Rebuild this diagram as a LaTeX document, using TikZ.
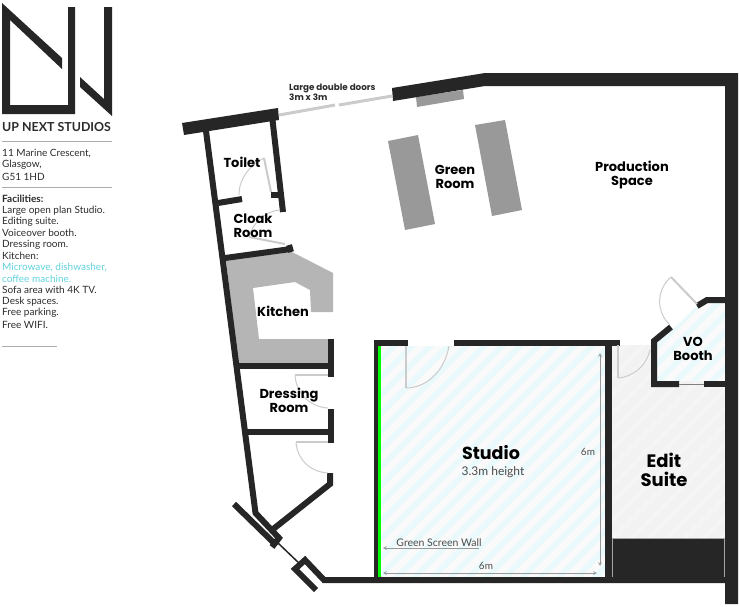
\documentclass[tikz,border=0pt]{standalone}
\usepackage{fontspec}
\setmainfont{Lato}
\newfontfamily\labelfont{Poppins}
\usepackage{tikz}
\definecolor{wallc}{HTML}{262626}
\definecolor{doorc}{HTML}{CBCBCB}
\definecolor{kitchenc}{HTML}{B5B5B5}
\definecolor{tablec}{HTML}{999999}
\definecolor{hatchc}{HTML}{EAF9FB}
\definecolor{hatchbg}{HTML}{FAFAFA}
\definecolor{editc}{HTML}{F2F2F2}
\definecolor{editstripe}{HTML}{F5F5F5}
\definecolor{textc}{HTML}{2B2B2B}
\definecolor{cyantext}{HTML}{62D2DE}
\tikzstyle{wall} = [wallc, line width=6pt]
\tikzstyle{swing} = [doorc, line width=1pt]
\tikzstyle{leaf} = [doorc, line width=2pt]
\tikzstyle{rule} = [doorc!85!black, line width=1pt]
\tikzstyle{room} = [inner sep=0pt, align=center, text=black, font=\labelfont\fontsize{13}{14}\selectfont\bfseries]
\tikzstyle{side} = [inner sep=0pt, anchor=west, text=textc, font=\fontsize{10}{11}\selectfont]
\tikzstyle{dim} = [inner sep=0pt, text=textc!85, font=\fontsize{10}{10}\selectfont]
\tikzstyle{dimline} = [gray!80, line width=0.7pt, ->, >=stealth]
\begin{document}
\begin{tikzpicture}[x=1pt,y=-1pt]
\useasboundingbox (0,0) rectangle (739,606);
% rooms
\begin{scope}
\clip (381,346) rectangle (605,577);
\fill [hatchbg] (381,346) rectangle (605,577);
\foreach \i in {0,18,...,486}
  \fill [hatchc] (381+\i-240,577) -- (381+\i-240+8,577) -- (381+\i+8,337) -- (381+\i,337) -- cycle;
\end{scope}
\begin{scope}
\clip (612,345) rectangle (725,538);
\fill [editc] (612,345) rectangle (725,538);
\foreach \i in {0,18,...,320}
  \fill [editstripe] (612+\i-200,538) -- (612+\i-200+6,538) -- (612+\i+6,338) -- (612+\i,338) -- cycle;
\end{scope}
\begin{scope}
\clip (657,343) -- (672,330) -- (697,306) -- (708,302) -- (725,302) -- (725,381) -- (657,381) -- cycle;
\fill [hatchbg] (650,295) rectangle (725,381);
\foreach \i in {0,18,...,180}
  \fill [hatchc] (650+\i-90,385) -- (650+\i-90+8,385) -- (650+\i+8,295) -- (650+\i,295) -- cycle;
\end{scope}
\fill [wallc, draw=gray!70, line width=0.5pt] (612,538) rectangle (724.5,577);
% furniture
\fill [kitchenc] (226,260) -- (292,252) -- (333,273) -- (333,312) -- (311,312) -- (310,290) -- (295,282) -- (253,288) -- (259,339) -- (328,339) -- (328,363) -- (238,363) -- cycle;
\fill [tablec] (388,141) -- (418,135) -- (435,224) -- (405,230) -- cycle;
\fill [tablec] (475,125) -- (505,120) -- (522,210) -- (492,216) -- cycle;
\fill [tablec] (416,97) -- (463,90) -- (464,99) -- (417,107) -- cycle;
% outer walls
\fill [wallc] (182,123) -- (278,108) -- (279,120) -- (184,135) -- cycle;
\fill [wallc] (392,88) -- (485,73) -- (738,73) -- (738,604) -- (725,604) -- (725,86) -- (485,86) -- (393,101) -- cycle;
\draw [wall] (206,131) -- (255.5,513) -- (279,538) -- (272,547);
\draw [wall] (330,473) -- (330,484) -- (272,530);
\draw [wallc, line width=6pt] (234,504) -- (274,543);
\draw [wallc, line width=1.5pt] (278,543) -- (301,565);
\draw [wall] (316,590) -- (295,569) -- (305,560) -- (324,580) -- (737,580);
% inner walls
\draw [wall] (272.5,120) -- (283,212);
\draw [wall] (218,203) -- (242,199);
\draw [wall] (271,195) -- (280,195);
\draw [wall] (225,258) -- (291,249);
\draw [wall] (289,245) -- (291,252);
\draw [wall] (238,366) -- (331,366);
\draw [wall] (247,432) -- (331,432);
\draw [wall] (331,339) -- (331,377);
\draw [wall] (331,409) -- (331,443);
\draw [wall] (408,343) -- (376.3,343);
\draw [wallc, line width=4pt] (376.3,340) -- (376.3,577);
\draw [green, line width=3pt] (379.5,346) -- (379.5,577);
\draw [wall] (454,343) -- (620,343);
\draw [wall, line width=7pt] (608.5,343) -- (608.5,583);
\draw [wall] (671,327) -- (654,341) -- (654,384) -- (679,384);
\draw [wall] (704,384) -- (725,384);
\draw [wall] (697,306) -- (707,300) -- (725,300);
\draw [rule, gray, line width=0.8pt] (679,384) -- (704,384);
% doors
\draw [leaf, line width=3pt] (279,115) -- (335,105);
\draw [leaf, line width=3pt] (339,105) -- (392,96);
\draw [leaf] (264,158) -- (271,192);
\draw [swing] (264,158) .. controls (250,165) and (239,178) .. (239,195);
\draw [leaf] (249,237) -- (285,244);
\draw [swing] (280,210) .. controls (265,211) and (252,224) .. (249,237);
\draw [leaf] (295,375) -- (328,375);
\draw [swing] (295,375) .. controls (296,393) and (310,407) .. (328,408);
\draw [leaf] (296,442) -- (328,442);
\draw [swing] (296,442) .. controls (297,459) and (310,472) .. (328,473);
\draw [leaf] (406,346) -- (406,388);
\draw [swing] (406,388) .. controls (424,388) and (444,374) .. (449,346);
\draw [leaf] (618,345) -- (618,378);
\draw [swing] (618,378) .. controls (632,377) and (646,367) .. (650,350);
\draw [leaf] (671,277) -- (697,304);
\draw [swing] (671,277) .. controls (656,290) and (656,312) .. (670,325);
% dimensions
\coordinate (dimA) at (597,573);
\coordinate (dimB) at (383,573);
\coordinate (dimC) at (600,353);
\coordinate (dimD) at (600,566);
\coordinate (dimE) at (479,548);
\coordinate (dimF) at (383,548);
\draw [dimline, <->] (dimB) -- (dimA);
\draw [dimline, <->] (dimC) -- (dimD);
\draw [dimline] (dimE) -- (dimF);
\node (dimH)[dim] at (486,566) {6m};
\node (dimV)[dim] at (588,452) {6m};
\node (greenWall)[dim, font=\fontsize{10.5}{10}\selectfont] at (439,543) {Green Screen Wall};
% room names
\node (doors)[inner sep=0pt, anchor=west, align=left, text=textc, font=\labelfont\fontsize{8.8}{8}\selectfont\bfseries] at (289,92) {Large double doors\\3m x 3m};
\node (toilet)[room] at (242,162.5) {Toilet};
\node (cloak)[room] at (253,226) {Cloak\\Room};
\node (kitchen)[room] at (283,311) {Kitchen};
\node (dressing)[room] at (289,400.5) {Dressing\\Room};
\node (greenRoom)[room] at (455,177) {Green\\Room};
\node (production)[room] at (632,175.5) {Production\\Space};
\node (studio)[room, font=\labelfont\fontsize{17.5}{20}\selectfont\bfseries] at (491,453) {Studio};
\node (height)[dim, font=\fontsize{12}{13}\selectfont] at (493,472) {3.3m height};
\node (edit)[room, font=\labelfont\fontsize{18}{19}\selectfont\bfseries] at (664,470) {Edit\\Suite};
\node (booth)[room] at (693,348.5) {VO\\Booth};
% logo
\fill [wallc] (2,3) -- (62,58) -- (62,69) -- (10,20) -- (10,105) -- (68,105) -- (68,7) -- (75,7) -- (75,114) -- (2,114) -- cycle;
\fill [wallc] (80,77) -- (104,99) -- (104,7) -- (112,7) -- (112,116) -- (80,87) -- cycle;
\node (brand)[side, font=\bfseries\fontsize{12.4}{14}\selectfont] at (2,127) {UP NEXT STUDIOS};
\draw [rule] (2,141) -- (112,141);
\node (addrA)[side] at (2,153.5) {11 Marine Crescent,};
\node (addrB)[side] at (2,165) {Glasgow,};
\node (addrC)[side] at (2,176.5) {G51 1HD};
\draw [rule] (2,187.5) -- (112,187.5);
\node (facil)[side, font=\bfseries\fontsize{10}{11}\selectfont] at (2,199) {Facilities:};
\node (facA)[side] at (2,210.5) {Large open plan Studio.};
\node (facB)[side] at (2,221.5) {Editing suite.};
\node (facC)[side] at (2,233) {Voiceover booth.};
\node (facD)[side] at (2,244.5) {Dressing room.};
\node (facE)[side] at (2,256) {Kitchen:};
\node (facF)[side, text=cyantext] at (2,267.5) {Microwave, dishwasher,};
\node (facG)[side, text=cyantext] at (2,279) {coffee machine.};
\node (facH)[side] at (2,290) {Sofa area with 4K TV.};
\node (facI)[side] at (2,301.5) {Desk spaces.};
\node (facJ)[side] at (2,313) {Free parking.};
\node (facK)[side] at (2,324.5) {Free WIFI.};
\draw [rule] (2,346.5) -- (57,346.5);
\end{tikzpicture}
\end{document}
